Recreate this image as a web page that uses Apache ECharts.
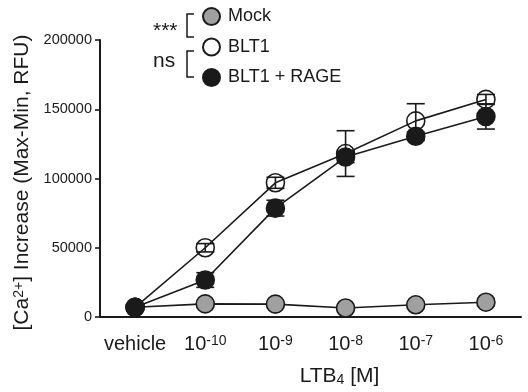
<!DOCTYPE html>
<html><head><meta charset="utf-8">
<script src="https://cdn.jsdelivr.net/npm/echarts@6/dist/echarts.min.js"></script>
<style>html,body{margin:0;padding:0;background:#fff}#c{width:528px;height:392px}</style>
</head><body><div id="c"></div>
<script>
// ---- data ----
const categories = ['vehicle', '1e-10', '1e-9', '1e-8', '1e-7', '1e-6'];
const tickBase = ['vehicle', '10', '10', '10', '10', '10'];
const tickExp = ['', '-10', '-9', '-8', '-7', '-6'];
const yTickValues = [0, 50000, 100000, 150000, 200000];
const seriesNames = ['Mock', 'BLT1', 'BLT1 + RAGE'];
const mock = [7000, 9500, 9300, 6500, 8800, 10700];
const mockErr = [1500, 1500, 1500, 1500, 1500, 2500];
const blt1 = [7000, 50000, 96900, 118000, 141600, 157100];
const blt1Err = [1500, 3000, 4000, 16500, 12400, 3600];
const rage = [7000, 26700, 78600, 115500, 130500, 144800];
const rageErr = [1500, 5300, 5700, 4000, 3000, 9100];
const sigLabels = ['***', 'ns'];

const FONT = '"Liberation Sans", Arial, Helvetica, sans-serif';
const INK = '#1a1a1a';

function errSeries(vals, errs) {
  return {
    type: 'custom', silent: true, z: 2,
    encode: { x: 0, y: [1, 2] },
    data: vals.map((v, i) => [i, v - errs[i], v + errs[i]]),
    renderItem: function (params, api) {
      const x = api.value(0);
      const lo = api.coord([x, api.value(1)]);
      const hi = api.coord([x, api.value(2)]);
      const w = 9;
      const st = { stroke: INK, lineWidth: 1.6 };
      return {
        type: 'group', children: [
          { type: 'line', shape: { x1: lo[0], y1: lo[1], x2: hi[0], y2: hi[1] }, style: st },
          { type: 'line', shape: { x1: hi[0] - w, y1: hi[1], x2: hi[0] + w, y2: hi[1] }, style: st },
          { type: 'line', shape: { x1: lo[0] - w, y1: lo[1], x2: lo[0] + w, y2: lo[1] }, style: st }
        ]
      };
    }
  };
}

function lineSeries(name, vals, fill) {
  return {
    type: 'line', name: name, data: vals, z: 3,
    symbol: 'circle', symbolSize: 18,
    lineStyle: { color: INK, width: 1.6 },
    itemStyle: { color: fill, borderColor: INK, borderWidth: 1.6 },
    emphasis: { disabled: true }
  };
}

const chart = echarts.init(document.getElementById('c'), null, { renderer: 'canvas' });
chart.setOption({
  animation: false,
  backgroundColor: '#fff',
  textStyle: { fontFamily: FONT, color: INK },
  grid: { left: 100, right: 7, top: 40, bottom: 72, containLabel: false },
  legend: {
    orient: 'vertical', left: 197, top: 2, icon: 'circle',
    itemWidth: 17, itemHeight: 17, itemGap: 11.5,
    data: seriesNames,
    textStyle: { fontSize: 18, fontFamily: FONT, color: INK, padding: [0, 0, 0, 3] },
    selectedMode: false
  },
  xAxis: {
    type: 'category', data: categories, boundaryGap: true,
    axisLine: { lineStyle: { color: INK, width: 2 } },
    axisTick: { alignWithLabel: true, length: 6, lineStyle: { color: INK, width: 1.6 } },
    axisLabel: {
      interval: 0, margin: 17, fontSize: 20, color: INK, fontFamily: FONT,
      formatter: function (v, i) {
        return tickExp[i] ? '{a|' + tickBase[i] + '}{s|' + tickExp[i] + '}' : tickBase[i];
      },
      rich: {
        a: { fontSize: 20, fontFamily: FONT, color: INK },
        s: { fontSize: 14, fontFamily: FONT, color: INK, verticalAlign: 'top' }
      }
    },
    name: 'LTB{sub|4} [M]', nameLocation: 'middle', nameGap: 49,
    nameTextStyle: {
      fontSize: 21, fontFamily: FONT, color: INK, padding: [0, 0, 0, 58],
      rich: { sub: { fontSize: 14, fontFamily: FONT, color: INK, verticalAlign: 'bottom' } }
    }
  },
  yAxis: {
    type: 'value', min: yTickValues[0], max: yTickValues[yTickValues.length - 1],
    interval: yTickValues[1] - yTickValues[0],
    splitLine: { show: false },
    axisLine: { show: true, lineStyle: { color: INK, width: 2 } },
    axisTick: { show: true, length: 5, lineStyle: { color: INK, width: 1.6 } },
    axisLabel: { margin: 8, fontSize: 14.5, color: INK, fontFamily: FONT, formatter: function (v) { return String(v); } },
    name: '[Ca{sup|2+}] Increase (Max-Min, RFU)', nameLocation: 'middle', nameGap: 62,
    nameTextStyle: {
      fontSize: 21, fontFamily: FONT, color: INK, padding: [0, 8, 0, 0],
      rich: { sup: { fontSize: 14, fontFamily: FONT, color: INK, verticalAlign: 'top' } }
    }
  },
  series: [
    errSeries(mock, mockErr),
    errSeries(blt1, blt1Err),
    errSeries(rage, rageErr),
    lineSeries(seriesNames[0], mock, '#a0a0a0'),
    lineSeries(seriesNames[1], blt1, 'rgba(255,255,255,0)'),
    lineSeries(seriesNames[2], rage, INK)
  ],
  graphic: [
    { type: 'text', x: 6, y: -22, style: { text: 'B', fontSize: 28, fontWeight: 'bold', fontFamily: FONT, fill: INK } },
    { type: 'polyline', shape: { points: [[194, 14], [187, 14], [187, 37], [194, 37]] }, style: { stroke: INK, lineWidth: 1.5, fill: null } },
    { type: 'polyline', shape: { points: [[194, 51], [187, 51], [187, 77], [194, 77]] }, style: { stroke: INK, lineWidth: 1.5, fill: null } },
    { type: 'text', x: 153, y: 31, style: { text: sigLabels[0], fontSize: 21, fontFamily: FONT, fill: INK, verticalAlign: 'middle' } },
    { type: 'text', x: 153, y: 61, style: { text: sigLabels[1], fontSize: 21, fontFamily: FONT, fill: INK, verticalAlign: 'middle' } }
  ]
});
</script>
</body></html>
